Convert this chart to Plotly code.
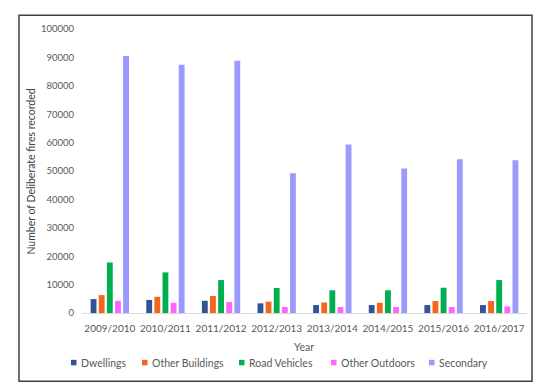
import plotly.graph_objects as go

years = ["2009/2010", "2010/2011", "2011/2012", "2012/2013", "2013/2014", "2014/2015", "2015/2016", "2016/2017"]
dwellings = [4900, 4600, 4300, 3400, 2800, 2800, 2800, 2800]
other_buildings = [6300, 5700, 6000, 4000, 3700, 3600, 4200, 4200]
road_vehicles = [17800, 14300, 11600, 8800, 8000, 8000, 8900, 11600]
other_outdoors = [4300, 3600, 3900, 2100, 2100, 2100, 2100, 2300]
secondary = [90500, 87400, 88800, 49200, 59300, 50900, 54100, 53800]

series_names = ["Dwellings", "Other Buildings", "Road Vehicles", "Other Outdoors", "Secondary"]
series_values = [dwellings, other_buildings, road_vehicles, other_outdoors, secondary]
series_colors = ["#2F5597", "#F4661B", "#00B050", "#FF66FF", "#9999FF"]

# page body has an 8px margin: work in window pixels, shift by OFF
OFF = 8
W, H = 546 - OFF, 391 - OFF
PL, PR, PT, PB = 82, 527, 28.5, 313.3  # plot area in window pixels
L, R, T, B = PL - OFF, W - (PR - OFF), PT - OFF, H - (PB - OFF)
pw, ph = PR - PL, PB - PT

def px(x):
    return (x - PL) / pw

def py(y):
    return (PB - y) / ph

FAM = "Lato, Open Sans, sans-serif"
GREY = "#595959"

fig = go.Figure()
for name, vals, col in zip(series_names, series_values, series_colors):
    fig.add_trace(go.Bar(x=years, y=vals, name=name, marker=dict(color=col, line=dict(width=0))))

shapes = [dict(type="rect", xref="paper", yref="paper",
               x0=px(19), x1=px(532), y0=py(381.7), y1=py(14.7),
               line=dict(color="#404040", width=1.5), fillcolor="rgba(0,0,0,0)", layer="below")]
annotations = [
    dict(text="Number of Deliberate fires recorded", xref="paper", yref="paper",
         x=px(31.5), y=py(172), textangle=-90, showarrow=False, xanchor="center", yanchor="middle",
         font=dict(family=FAM, size=10.5, color="#404040")),
    dict(text="Year", xref="paper", yref="paper", x=px(304), y=py(347), showarrow=False,
         xanchor="center", yanchor="middle", font=dict(family=FAM, size=10.5, color=GREY)),
]

# manual legend (Excel style: small square close to text)
leg_x = [71, 142, 239, 331, 429]
leg_y = 363
for name, col, lx in zip(series_names, series_colors, leg_x):
    shapes.append(dict(type="rect", xref="paper", yref="paper",
                       x0=px(lx), x1=px(lx + 5.5), y0=py(leg_y + 2.75), y1=py(leg_y - 2.75),
                       line=dict(width=0), fillcolor=col))
    annotations.append(dict(text=name, xref="paper", yref="paper", x=px(lx + 7.5), y=py(leg_y),
                            xanchor="left", yanchor="middle", showarrow=False,
                            font=dict(family=FAM, size=10.5, color=GREY)))

fig.update_layout(
    width=W, height=H,
    margin=dict(l=L, r=R, t=T, b=B, autoexpand=False),
    paper_bgcolor="white", plot_bgcolor="white",
    barmode="group", bargap=0.27, bargroupgap=0.28,
    font=dict(family=FAM, size=10, color=GREY),
    showlegend=False,
    xaxis=dict(showgrid=False, showline=True, linecolor="#D9D9D9", linewidth=1.2,
               ticks="", tickfont=dict(size=10, color=GREY), automargin=False,
               ticklabelstandoff=6),
    yaxis=dict(range=[0, 100000], dtick=10000, tickformat="d", showgrid=False,
               zeroline=False, showline=False, ticks="", automargin=False,
               tickfont=dict(size=9.5, color=GREY), ticklabelstandoff=7),
    shapes=shapes,
    annotations=annotations,
)

fig.write_html("out.html")
